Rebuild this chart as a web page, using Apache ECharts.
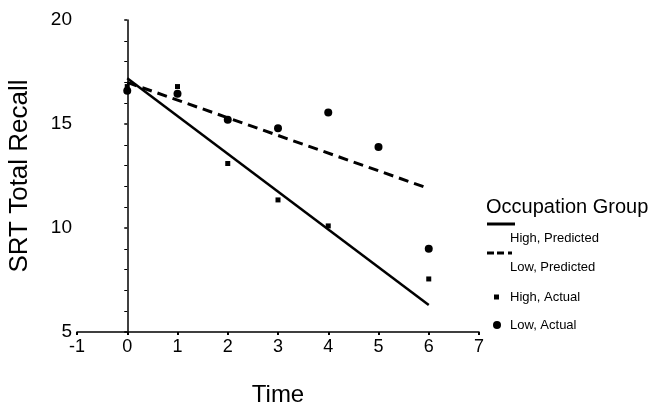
<!DOCTYPE html>
<html>
<head>
<meta charset="utf-8">
<script src="https://cdn.jsdelivr.net/npm/echarts@6/dist/echarts.min.js"></script>
<style>
  html, body { margin: 0; padding: 0; background: #fff; }
  #chart { width: 659px; height: 406px; }
</style>
</head>
<body>
<div id="chart"></div>
<script>
// time points and values
var highPredicted = [[0, 17.2], [6, 6.3]];
var lowPredicted = [[0, 17.0], [6, 11.9]];
var highActual = [[0, 16.8], [1, 16.8], [2, 13.1], [3, 11.35], [4, 10.1], [6, 7.55]];
var lowActual = [[0, 16.6], [1, 16.45], [2, 15.2], [3, 14.8], [4, 15.55], [5, 13.9], [6, 9.0]];
var seriesNames = ['High, Predicted', 'Low, Predicted', 'High, Actual', 'Low, Actual'];

var font = 'Liberation Sans, Arial, sans-serif';
var chart = echarts.init(document.getElementById('chart'));

// one legend box per entry, the reference puts the line labels under their keys
function legendBox(name, left, top, icon, w, h, textStyle, formatter) {
    return {
        data: [name],
        orient: 'vertical',
        left: left,
        top: top,
        padding: 0,
        icon: icon,
        itemWidth: w,
        itemHeight: h,
        selectedMode: false,
        formatter: formatter,
        itemStyle: { opacity: 1 },
        textStyle: Object.assign({ fontFamily: font, fontSize: 13, color: '#000' }, textStyle)
    };
}

var option = {
    animation: false,
    backgroundColor: '#fff',
    textStyle: { fontFamily: font, color: '#000' },
    title: {
        text: 'Occupation Group',
        left: 486,
        top: 197,
        padding: 0,
        textStyle: { fontFamily: font, fontSize: 20, fontWeight: 'normal', color: '#000' }
    },
    legend: [
        legendBox(seriesNames[0], 487, 196, 'rect', 28, 3,
            { lineHeight: 28, padding: [0, 0, 0, -10] }, '\n{name}'),
        legendBox(seriesNames[1], 487, 225, 'path://M0,0 L7,0 L7,3 L0,3 Z M10,0 L17,0 L17,3 L10,3 Z M21,0 L25,0 L25,3 L21,3 Z', 25, 3,
            { lineHeight: 28, padding: [0, 0, 0, -7] }, '\n{name}'),
        legendBox(seriesNames[2], 494, 289, 'rect', 5, 5,
            { lineHeight: 16, padding: [0, 0, 0, 6] }),
        legendBox(seriesNames[3], 493, 317, 'circle', 8, 8,
            { lineHeight: 16, padding: [0, 0, 0, 4] })
    ],
    grid: { left: 77, right: 180, top: 20, bottom: 74, outerBoundsMode: 'none', containLabel: false },
    xAxis: {
        type: 'value',
        min: -1,
        max: 7,
        interval: 1,
        name: 'Time',
        nameLocation: 'middle',
        nameGap: 51,
        nameTextStyle: { fontFamily: font, fontSize: 24, color: '#000' },
        axisLine: { lineStyle: { color: '#000', width: 1.5 } },
        axisTick: { length: 3, lineStyle: { color: '#000', width: 2 } },
        axisLabel: { fontFamily: font, fontSize: 18, color: '#000', margin: 6 },
        splitLine: { show: false }
    },
    yAxis: {
        type: 'value',
        min: 5,
        max: 20,
        interval: 5,
        name: 'SRT Total Recall',
        nameLocation: 'middle',
        nameGap: 44,
        nameTextStyle: { fontFamily: font, fontSize: 26, color: '#000' },
        axisLine: { show: true, lineStyle: { color: '#000', width: 1.5 } },
        axisTick: { show: true, length: 3, lineStyle: { color: '#000', width: 1.5 } },
        minorTick: { show: true, splitNumber: 5, length: 3, lineStyle: { color: '#000', width: 1 } },
        axisLabel: { fontFamily: font, fontSize: 19, color: '#000', margin: 5 },
        splitLine: { show: false }
    },
    series: [
        {
            name: seriesNames[0],
            type: 'line',
            data: highPredicted,
            showSymbol: false,
            symbol: 'none',
            itemStyle: { color: '#000' },
            lineStyle: { color: '#000', width: 2.5 }
        },
        {
            name: seriesNames[1],
            type: 'line',
            data: lowPredicted,
            showSymbol: false,
            symbol: 'none',
            itemStyle: { color: '#000' },
            lineStyle: { color: '#000', width: 3, type: [10, 6] }
        },
        {
            name: seriesNames[2],
            type: 'scatter',
            data: highActual,
            symbol: 'rect',
            symbolSize: 5,
            itemStyle: { color: '#000', opacity: 1 }
        },
        {
            name: seriesNames[3],
            type: 'scatter',
            data: lowActual,
            symbol: 'circle',
            symbolSize: 8,
            itemStyle: { color: '#000', opacity: 1 }
        }
    ]
};
chart.setOption(option);
window.addEventListener('resize', function () {
    chart.resize();
});
</script>
</body>
</html>
